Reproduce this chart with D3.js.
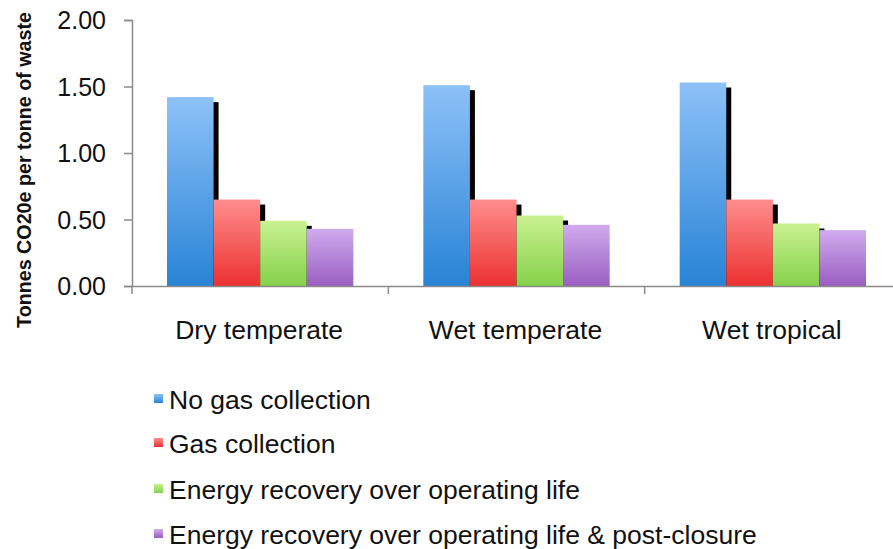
<!DOCTYPE html>
<html>
<head>
<meta charset="utf-8">
<script src="https://cdn.jsdelivr.net/npm/d3@7/dist/d3.min.js"></script>
<style>
  html, body { margin: 0; padding: 0; background: #fff; }
  svg { display: block; font-family: "Liberation Sans", Arial, sans-serif; }
</style>
</head>
<body>
<svg id="chart" width="893" height="549"></svg>
<script>
// Climate zones along the x axis
const categories = ["Dry temperate", "Wet temperate", "Wet tropical"];

// Landfill management scenarios (legend order)
const seriesNames = [
  "No gas collection",
  "Gas collection",
  "Energy recovery over operating life",
  "Energy recovery over operating life & post-closure"
];

// Emissions per scenario, one value per climate zone (t CO2e / t waste)
const noGasCollection    = [1.42, 1.51, 1.53];
const gasCollection      = [0.65, 0.65, 0.65];
const energyRecovery     = [0.49, 0.53, 0.47];
const energyRecoveryPost = [0.43, 0.46, 0.42];

const yTicks = [0, 0.5, 1.0, 1.5, 2.0];

const seriesValues = [noGasCollection, gasCollection, energyRecovery, energyRecoveryPost];

// top / bottom gradient colours for each scenario
const gradTop    = ["#8dc1f8", "#ff8d8d", "#c9f191", "#d0abee"];
const gradBottom = ["#2883d6", "#ec3131", "#86d14b", "#9a5ec1"];

const svg = d3.select("#chart");
const defs = svg.append("defs");
gradTop.forEach((c, i) => {
  const g = defs.append("linearGradient")
    .attr("id", "grad" + i)
    .attr("x1", 0).attr("y1", 0).attr("x2", 0).attr("y2", 1);
  g.append("stop").attr("offset", "0%").attr("stop-color", c);
  g.append("stop").attr("offset", "100%").attr("stop-color", gradBottom[i]);
});

const plotLeft = 132, plotRight = 901, plotTop = 20, plotBase = 286;

const x0 = d3.scaleBand().domain(categories).range([plotLeft, plotRight]).padding(0);
const x1 = d3.scaleBand().domain(d3.range(seriesNames.length))
  .range([35, x0.bandwidth() - 35]).padding(0);
const y = d3.scaleLinear().domain([0, 2]).range([plotBase, plotTop]);

const rows = categories.map((c, ci) => ({
  cat: c,
  vals: seriesValues.map((s, si) => ({ si, v: s[ci] }))
}));

// drop shadows (hidden by the neighbouring bar except above it)
const shadowG = svg.append("g");
rows.forEach(r => {
  shadowG.selectAll(null)
    .data(r.vals.filter(d => d.si < seriesNames.length - 1))
    .join("rect")
    .attr("x", d => x0(r.cat) + x1(d.si) + 5)
    .attr("y", d => y(d.v) + 5)
    .attr("width", x1.bandwidth())
    .attr("height", d => plotBase - y(d.v) - 5)
    .attr("fill", "#000");
});

// bars
const barG = svg.append("g");
rows.forEach(r => {
  barG.selectAll(null)
    .data(r.vals)
    .join("rect")
    .attr("x", d => x0(r.cat) + x1(d.si))
    .attr("y", d => y(d.v))
    .attr("width", x1.bandwidth())
    .attr("height", d => plotBase - y(d.v))
    .attr("fill", d => `url(#grad${d.si})`);
});

// y axis
const yAxis = svg.append("g")
  .attr("transform", `translate(${plotLeft},0)`)
  .call(d3.axisLeft(y).tickValues(yTicks).tickFormat(d3.format(".2f")).tickSize(8).tickPadding(18));
yAxis.select(".domain").attr("stroke", "#8a8a8a").attr("stroke-width", 1.5);
yAxis.selectAll(".tick line").attr("stroke", "#8a8a8a").attr("stroke-width", 1.5);
yAxis.selectAll(".tick text")
  .attr("fill", "#111")
  .style("font-size", "25px")
  .attr("dy", "0.35em");

// x axis
const xAxis = svg.append("g")
  .attr("transform", `translate(0,${plotBase})`)
  .call(d3.axisBottom(x0).tickSize(0).tickFormat(""));
xAxis.select(".domain").attr("stroke", "#8a8a8a").attr("stroke-width", 1.5);
// category boundary ticks
xAxis.selectAll("line.sep")
  .data(categories)
  .join("line")
  .attr("class", "sep")
  .attr("x1", d => x0(d) + x0.bandwidth())
  .attr("x2", d => x0(d) + x0.bandwidth())
  .attr("y1", 0).attr("y2", 8)
  .attr("stroke", "#8a8a8a").attr("stroke-width", 1.5);
xAxis.selectAll("line.first")
  .data([categories[0]])
  .join("line")
  .attr("class", "first")
  .attr("x1", d => x0(d)).attr("x2", d => x0(d))
  .attr("y1", 0).attr("y2", 8)
  .attr("stroke", "#8a8a8a").attr("stroke-width", 1.5);

svg.append("g").selectAll("text")
  .data(categories)
  .join("text")
  .attr("x", d => x0(d) + x0.bandwidth() / 2 - 1)
  .attr("y", 339)
  .attr("text-anchor", "middle")
  .attr("fill", "#111")
  .style("font-size", "26.5px")
  .text(d => d);

// y axis title
svg.append("text")
  .attr("transform", "translate(31,170) rotate(-90)")
  .attr("text-anchor", "middle")
  .attr("fill", "#111")
  .style("font-size", "19.7px")
  .style("font-weight", "bold")
  .text("Tonnes CO20e per tonne of waste");

// legend
const legend = svg.append("g");
const legendY = [400, 444, 490, 535];
seriesNames.forEach((name, i) => {
  const g = legend.append("g").attr("transform", `translate(0,${legendY[i]})`);
  g.append("rect")
    .attr("x", 154).attr("y", -6)
    .attr("width", 9).attr("height", 9)
    .attr("fill", `url(#grad${i})`);
  g.append("text")
    .attr("x", 169).attr("y", 0)
    .attr("dy", "0.35em")
    .attr("fill", "#111")
    .style("font-size", "26.5px")
    .text(name);
});
</script>
</body>
</html>
